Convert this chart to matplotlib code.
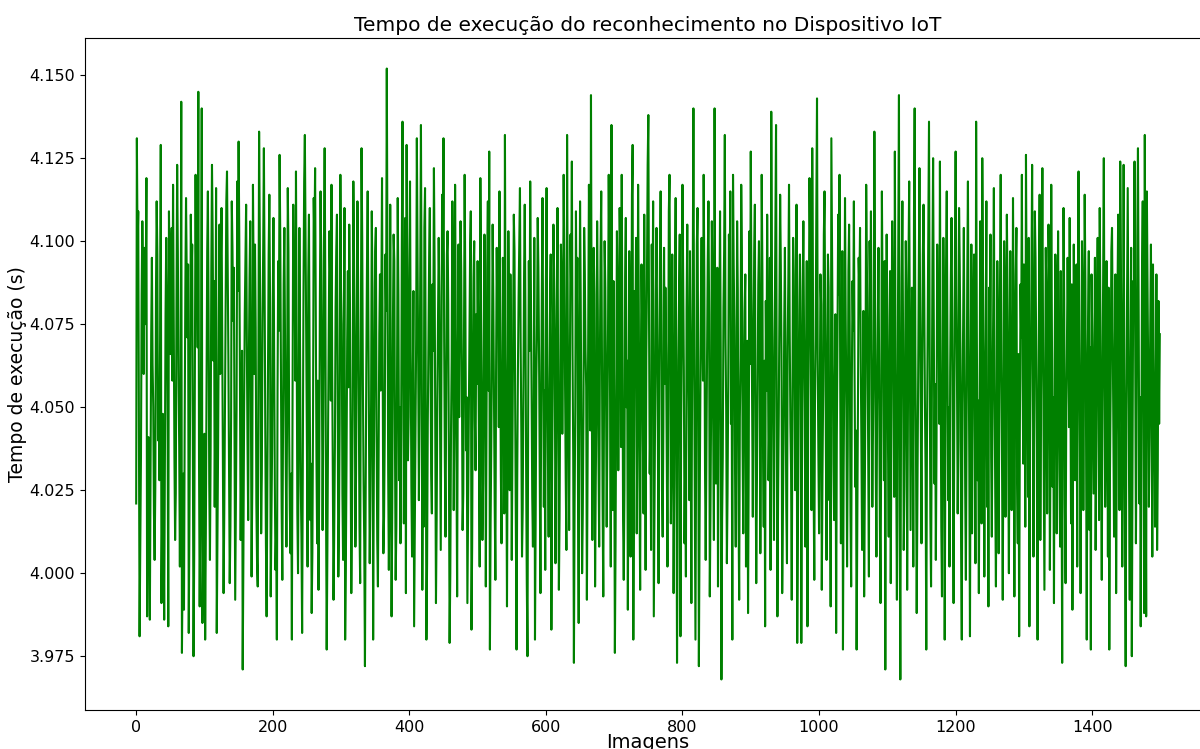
import numpy as np
import matplotlib
matplotlib.use("Agg")
import matplotlib.pyplot as plt

# Execution time per image, stored as milliseconds above BASE_S seconds
BASE_S = 4.0

times_ms_part_a = [
    21,131,98,109,40,-19,8,35,84,106,92,60,98,75,88,119,-13,12,41,22,-14,30,72,95,63,
    50,18,4,26,85,112,96,40,55,28,70,129,-9,15,48,20,-14,33,78,101,82,46,-16,109,88,
    66,92,104,58,117,76,35,10,24,80,123,97,60,38,2,45,142,-24,5,30,-11,44,86,113,90,
    71,93,-18,20,52,108,87,99,40,-25,7,62,120,81,104,68,145,35,-10,18,64,140,-15,6,31,
    42,-20,12,58,97,115,80,27,4,36,91,123,102,64,88,20,54,116,-18,10,39,76,105,60,94,
    110,71,33,-6,18,51,86,112,121,93,65,28,-3,14,47,112,98,76,92,38,-8,20,49,118,85,
    130,100,58,10,36,67,-29,5,47,78,95,111,71,40,16,63,89,106,52,-1,26,117,88,60,99,
    74,21,3,-4,68,133,102,57,12,30,76,98,128,90,45,9,-13,22,62,96,114,83,-7,15,37,
    80,107,66,28,1,12,-20,55,94,73,126,101,60,20,-2,41,87,104,70,33,8,50,116,97,42,
    19,6,30,-20,54,111,83,92,58,121,74,18,0,45,104,67,27,11,-18,36,85,118,132,99,71,
    40,2,89,108,61,16,33,-12,6,48,113,98,122,76,35,9,58,-5,25,82,115,94,57,13,48,
    100,128,84,20,-23,7,43,72,103,90,52,117,63,29,-8,12,38,80,97,108,58,-1,15,45,120,
    86,75,24,4,61,110,-20,2,33,70,91,56,105,83,41,-6,15,49,118,96,66,8,30,77,112,
    88,53,14,-3,69,128,101,57,27,9,-28,21,62,93,115,78,46,3,24,51,109,86,-20,30,64,
    97,104,44,10,-4,36,72,90,55,82,119,60,6,17,42,96,79,152,87,31,1,23,111,48,-13,
    20,76,102,94,38,-2,14,59,113,84,28,50,9,43,99,136,73,15,57,107,-6,129,81,34,47,
    92,118,66,26,5,54,85,-16,12,40,71,131,98,63,22,48,89,135,80,-5,37,14,104,116,58,
    -20,3,45,72,95,110,61,30,18,87,67,122,93,39,-9,16,52,77,101,83,44,7,60,114,92,
    131,70,34,11,56,96,103,81,29,-21,0,42,65,112,88,19,50,117,74,36,-7,62,99,47,79,
    106,91,58,13,24,68,120,84,37,53,-9,17,41,73,97,109,-17,8,63,89,100,46,31,78,57,
]

times_ms_part_b = [
    94,71,35,2,119,85,49,10,27,64,102,76,-4,43,92,112,55,127,-23,15,38,67,105,82,51,
    21,-2,60,98,74,87,44,115,69,30,9,54,95,81,18,132,66,40,-10,48,103,77,25,90,59,
    4,36,72,108,97,50,14,-23,28,61,83,100,116,70,42,5,19,57,89,111,79,33,-3,-25,46,
    94,67,118,86,52,23,8,39,101,-20,16,59,75,107,92,64,31,-6,47,84,113,70,20,55,1,
    88,116,63,34,11,44,78,96,-17,26,57,105,91,68,3,38,81,110,49,-5,17,61,99,86,42,
    71,120,93,58,29,7,132,76,45,13,53,102,85,124,66,35,-27,20,50,109,73,95,24,-15,60,
    112,82,39,0,18,48,104,90,67,56,-8,31,77,117,97,43,144,70,10,61,98,84,-4,27,52,
    106,79,35,8,62,96,115,69,22,-7,45,100,86,57,14,40,74,120,92,51,2,135,63,19,88,
    47,-24,9,55,103,82,31,66,110,95,38,120,73,16,-2,25,89,107,50,64,-11,42,97,78,5,
    58,114,129,-20,36,85,70,101,12,48,117,81,27,-5,60,93,75,41,18,108,54,1,65,90,123,
    138,77,30,46,7,99,68,112,-13,20,53,84,104,72,38,-3,61,94,115,80,25,11,44,98,57,
    86,66,33,2,49,109,120,75,15,40,96,59,-6,28,88,113,52,-27,19,64,83,102,-19,43,71,
    117,91,61,9,34,-1,79,105,70,50,22,97,45,-9,56,87,140,68,26,-20,39,99,110,63,-28,
    14,47,82,101,73,58,120,89,31,4,37,66,94,112,78,-7,19,52,106,84,43,10,140,60,27,
    55,92,-4,41,76,109,68,-32,16,35,80,97,132,71,49,3,24,58,102,88,115,45,62,-20,120,
    93,74,30,8,54,106,85,21,-8,47,65,117,98,38,12,57,79,90,2,42,70,-12,33,103,63,
    127,84,51,17,69,96,111,40,-3,26,59,87,100,73,6,46,120,91,35,14,64,-16,82,55,108,
    77,28,44,95,1,139,86,62,36,10,71,104,135,53,-13,22,48,80,114,93,66,-6,15,39,75,
    98,57,20,3,68,88,117,73,45,31,-8,52,101,90,61,25,41,111,-21,13,56,79,96,67,-21,
    34,85,106,72,49,8,58,94,-16,42,76,119,99,63,19,128,87,27,-2,51,70,110,143,65,36,
]

times_ms_part_c = [
    12,47,90,81,-5,29,55,102,115,74,38,4,60,96,86,22,44,-10,131,99,67,33,16,53,78,
    -18,41,71,108,84,120,57,9,46,97,-23,30,63,113,77,50,2,37,91,105,68,18,-4,58,88,
    73,112,60,26,43,-23,14,52,95,86,104,66,39,7,48,79,-7,24,57,117,93,70,35,-1,100,
    82,109,54,20,45,67,133,88,31,5,50,74,98,61,16,-9,40,115,83,71,28,94,-29,65,102,
    77,37,11,56,91,-3,47,106,84,69,23,127,62,32,-8,53,97,144,18,-32,44,89,112,72,7,
    26,58,100,80,-5,41,95,118,63,13,49,86,74,2,108,140,68,35,-12,21,55,90,122,79,46,
    9,60,96,111,85,52,30,-23,40,73,103,136,66,17,-4,48,92,125,78,27,57,4,38,99,70,
    87,45,124,63,14,-7,54,101,80,-20,36,94,115,69,22,50,2,61,89,107,76,29,-9,43,97,
    127,84,58,18,40,110,93,67,8,-20,51,75,104,62,25,-2,46,88,118,71,33,-19,56,99,12,
    43,81,96,65,3,136,74,28,52,-6,39,106,83,15,125,91,60,-1,47,70,112,20,55,-10,86,
    67,102,35,11,49,79,116,58,24,-4,42,94,73,6,54,89,120,64,31,-8,45,100,82,17,69,
    108,85,37,0,61,97,50,19,44,113,76,-7,57,90,104,27,9,66,-19,41,87,71,120,59,33,
    93,68,14,126,80,47,23,101,-16,38,62,88,123,73,5,52,109,95,66,29,-20,43,77,114,10,
    55,84,122,70,34,-5,46,98,79,18,60,105,89,1,40,117,73,26,53,-9,64,96,85,12,48,
    103,67,30,8,91,39,-27,58,110,82,21,-3,50,69,95,74,44,107,61,15,87,-11,44,99,72,
    28,54,93,2,85,121,70,37,-6,47,100,79,19,63,114,88,41,-20,55,76,97,13,68,-23,90,
    72,48,24,59,95,7,40,83,101,66,16,110,77,33,-2,52,89,125,63,20,38,94,71,5,86,
    -23,30,55,97,104,74,45,11,61,90,-6,36,82,108,50,19,124,92,67,2,42,123,58,14,-28,
    49,85,116,70,26,-8,57,98,-25,35,88,76,124,64,9,43,101,128,81,21,53,-16,39,94,112,
    68,-12,132,46,-13,115,87,60,20,41,74,99,52,5,93,66,38,14,48,90,7,31,82,45,72,
]

title_text = "Tempo de execução do reconhecimento no Dispositivo IoT"
x_label = "Imagens"
y_label = "Tempo de execução (s)"
x_ticks = [0, 200, 400, 600, 800, 1000, 1200, 1400]
y_ticks = [3.975, 4.000, 4.025, 4.050, 4.075, 4.100, 4.125, 4.150]

times_ms = times_ms_part_a + times_ms_part_b + times_ms_part_c
times_s = BASE_S + np.array(times_ms, dtype=float) / 1000.0
images = np.arange(len(times_s))

W, H = 1200, 749
fig = plt.figure(figsize=(W / 100, H / 100), dpi=100)
# axes extends past the right edge of the (cropped) frame, as in the reference
ax = fig.add_axes([85 / W, 39 / H, 1126 / W, 672 / H])
ax.plot(images, times_s, color="green", linewidth=1.5)

ax.set_xticks(x_ticks)
ax.set_yticks(y_ticks)
ax.set_yticklabels([f"{v:.3f}" for v in y_ticks])
ax.tick_params(axis="both", labelsize=11.5)
ax.set_title(title_text, fontsize=14.5, pad=5)
ax.set_xlabel(x_label, fontsize=14, labelpad=-1)
ax.set_ylabel(y_label, fontsize=13.5, labelpad=2)

fig.savefig("out.png", dpi=100)
